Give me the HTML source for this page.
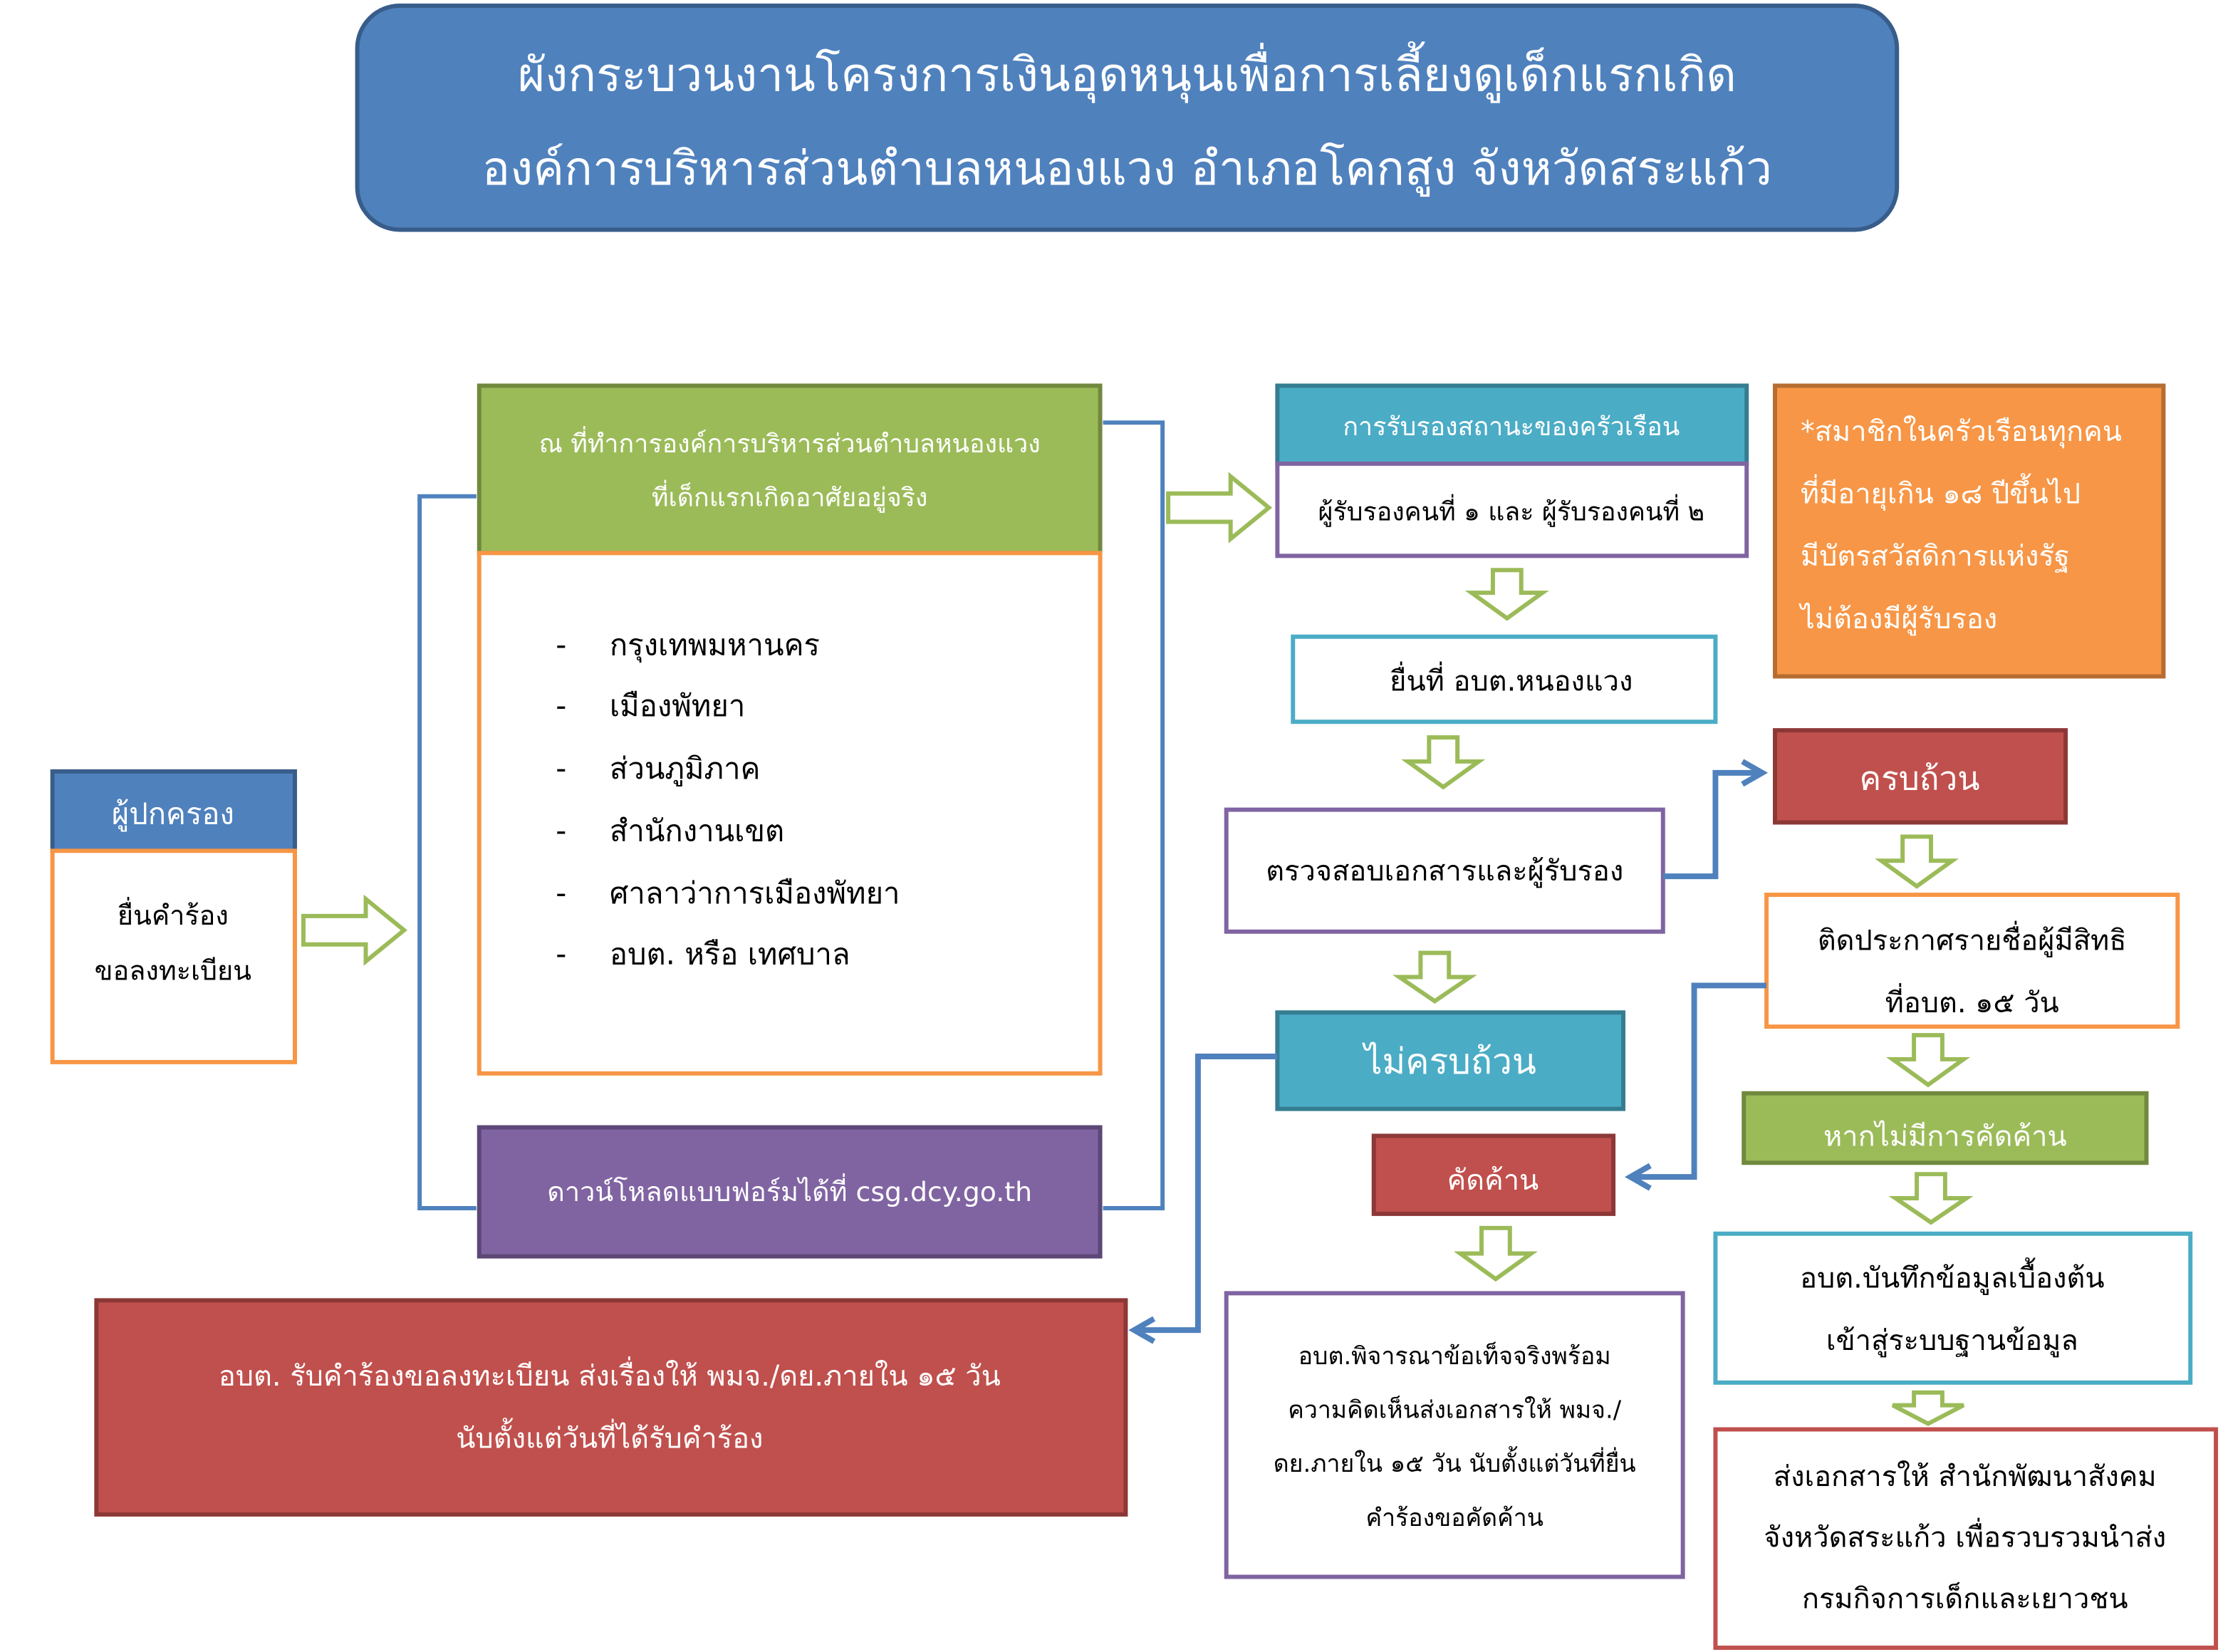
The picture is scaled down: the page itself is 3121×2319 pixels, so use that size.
<!DOCTYPE html>
<html><head><meta charset="utf-8">
<style>
html,body{margin:0;padding:0;background:#fff;width:3121px;height:2319px;overflow:hidden}
svg{display:block}
text{font-family:"DejaVu Sans","Liberation Sans",sans-serif}
</style></head><body>
<svg width="3121" height="2319" viewBox="0 0 1568 1165" preserveAspectRatio="none" xmlns="http://www.w3.org/2000/svg">
<defs>
<marker id="ah" viewBox="0 0 10 10" refX="8" refY="5" markerWidth="5" markerHeight="5" orient="auto"><path d="M1,1 L8,5 L1,9" fill="none" stroke="#4f81bd" stroke-width="2"/></marker>
</defs>
<!-- title -->
<rect x="252" y="4" width="1086" height="158" rx="30" fill="#4f81bd" stroke="#385d8a" stroke-width="3"/>
<text x="795" y="64" font-size="33" fill="#fff" text-anchor="middle">ผังกระบวนงานโครงการเงินอุดหนุนเพื่อการเลี้ยงดูเด็กแรกเกิด</text>
<text x="795" y="130" font-size="33" fill="#fff" text-anchor="middle">องค์การบริหารส่วนตำบลหนองแวง  อำเภอโคกสูง  จังหวัดสระแก้ว</text>

<!-- brackets -->
<path d="M336,350 L296,350 L296,852 L336,852" fill="none" stroke="#4f81bd" stroke-width="3"/>
<path d="M778,298 L820,298 L820,852 L778,852" fill="none" stroke="#4f81bd" stroke-width="3"/>

<!-- left -->
<rect x="37" y="544" width="171" height="56" fill="#4f81bd" stroke="#385d8a" stroke-width="3"/>
<text x="122" y="581" font-size="21" fill="#fff" text-anchor="middle">ผู้ปกครอง</text>
<rect x="37" y="600" width="171" height="149" fill="#fff" stroke="#f79646" stroke-width="3"/>
<text x="122" y="652" font-size="19" text-anchor="middle">ยื่นคำร้อง</text>
<text x="122" y="691" font-size="19" text-anchor="middle">ขอลงทะเบียน</text>

<!-- middle -->
<rect x="338" y="272" width="438" height="118" fill="#9bbb59" stroke="#71893f" stroke-width="3"/>
<text x="557" y="319" font-size="18" fill="#fff" text-anchor="middle">ณ ที่ทำการองค์การบริหารส่วนตำบลหนองแวง</text>
<text x="557" y="357" font-size="18" fill="#fff" text-anchor="middle">ที่เด็กแรกเกิดอาศัยอยู่จริง</text>
<rect x="338" y="390" width="438" height="367" fill="#fff" stroke="#f79646" stroke-width="3"/>
<g font-size="21">
<text x="392" y="462">-</text><text x="430" y="462">กรุงเทพมหานคร</text>
<text x="392" y="505">-</text><text x="430" y="505">เมืองพัทยา</text>
<text x="392" y="549">-</text><text x="430" y="549">ส่วนภูมิภาค</text>
<text x="392" y="593">-</text><text x="430" y="593">สำนักงานเขต</text>
<text x="392" y="637">-</text><text x="430" y="637">ศาลาว่าการเมืองพัทยา</text>
<text x="392" y="680">-</text><text x="430" y="680">อบต. หรือ เทศบาล</text>
</g>
<rect x="338" y="795" width="438" height="91" fill="#8064a2" stroke="#5c4776" stroke-width="3"/>
<text x="557" y="847" font-size="19" fill="#fff" text-anchor="middle">ดาวน์โหลดแบบฟอร์มได้ที่ csg.dcy.go.th</text>

<!-- red bottom -->
<rect x="68" y="917" width="726" height="151" fill="#c0504d" stroke="#8c3836" stroke-width="3"/>
<text x="430" y="977" font-size="20" fill="#fff" text-anchor="middle">อบต. รับคำร้องขอลงทะเบียน ส่งเรื่องให้ พมจ./ดย.ภายใน ๑๕ วัน</text>
<text x="430" y="1021" font-size="20" fill="#fff" text-anchor="middle">นับตั้งแต่วันที่ได้รับคำร้อง</text>

<!-- col 3 -->
<rect x="901" y="272" width="331" height="55" fill="#4bacc6" stroke="#357d91" stroke-width="3"/>
<text x="1066" y="307" font-size="18" fill="#fff" text-anchor="middle">การรับรองสถานะของครัวเรือน</text>
<rect x="901" y="327" width="331" height="65" fill="#fff" stroke="#8064a2" stroke-width="3"/>
<text x="1066" y="367" font-size="18" text-anchor="middle">ผู้รับรองคนที่ ๑ และ ผู้รับรองคนที่ ๒</text>
<rect x="912" y="449" width="298" height="60" fill="#fff" stroke="#4bacc6" stroke-width="3"/>
<text x="1066" y="487" font-size="20" text-anchor="middle">ยื่นที่ อบต.หนองแวง</text>
<rect x="865" y="571" width="308" height="86" fill="#fff" stroke="#8064a2" stroke-width="3"/>
<text x="1019" y="621" font-size="20" text-anchor="middle">ตรวจสอบเอกสารและผู้รับรอง</text>
<rect x="901" y="714" width="244" height="68" fill="#4bacc6" stroke="#357d91" stroke-width="3"/>
<text x="1023" y="757" font-size="25" fill="#fff" text-anchor="middle">ไม่ครบถ้วน</text>
<rect x="969" y="801" width="169" height="55" fill="#c0504d" stroke="#8c3836" stroke-width="3"/>
<text x="1053" y="839" font-size="20" fill="#fff" text-anchor="middle">คัดค้าน</text>
<rect x="865" y="912" width="322" height="200" fill="#fff" stroke="#8064a2" stroke-width="3"/>
<g font-size="17" text-anchor="middle">
<text x="1026" y="962">อบต.พิจารณาข้อเท็จจริงพร้อม</text>
<text x="1026" y="1000">ความคิดเห็นส่งเอกสารให้ พมจ./</text>
<text x="1026" y="1038">ดย.ภายใน ๑๕ วัน นับตั้งแต่วันที่ยื่น</text>
<text x="1026" y="1076">คำร้องขอคัดค้าน</text>
</g>

<!-- col 4 -->
<rect x="1252" y="272" width="274" height="205" fill="#f79646" stroke="#b66d31" stroke-width="3"/>
<g font-size="20" fill="#fff">
<text x="1270" y="311">*สมาชิกในครัวเรือนทุกคน</text>
<text x="1270" y="355">ที่มีอายุเกิน ๑๘ ปีขึ้นไป</text>
<text x="1270" y="399">มีบัตรสวัสดิการแห่งรัฐ</text>
<text x="1270" y="443">ไม่ต้องมีผู้รับรอง</text>
</g>
<rect x="1252" y="515" width="205" height="65" fill="#c0504d" stroke="#8c3836" stroke-width="3"/>
<text x="1354" y="557" font-size="23" fill="#fff" text-anchor="middle">ครบถ้วน</text>
<rect x="1246" y="631" width="290" height="93" fill="#fff" stroke="#f79646" stroke-width="3"/>
<text x="1391" y="670" font-size="20" text-anchor="middle">ติดประกาศรายชื่อผู้มีสิทธิ</text>
<text x="1391" y="714" font-size="20" text-anchor="middle">ที่อบต. ๑๕ วัน</text>
<rect x="1230" y="771" width="284" height="49" fill="#9bbb59" stroke="#71893f" stroke-width="3"/>
<text x="1372" y="808" font-size="20" fill="#fff" text-anchor="middle">หากไม่มีการคัดค้าน</text>
<rect x="1210" y="870" width="335" height="105" fill="#fff" stroke="#4bacc6" stroke-width="3"/>
<text x="1377" y="908" font-size="20" text-anchor="middle">อบต.บันทึกข้อมูลเบื้องต้น</text>
<text x="1377" y="952" font-size="20" text-anchor="middle">เข้าสู่ระบบฐานข้อมูล</text>
<rect x="1210" y="1008" width="353" height="154" fill="#fff" stroke="#c0504d" stroke-width="3"/>
<g font-size="20" text-anchor="middle">
<text x="1386" y="1048">ส่งเอกสารให้ สำนักพัฒนาสังคม</text>
<text x="1386" y="1091">จังหวัดสระแก้ว เพื่อรวบรวมนำส่ง</text>
<text x="1386" y="1134">กรมกิจการเด็กและเยาวชน</text>
</g>

<!-- blue connectors -->
<g fill="none" stroke="#4f81bd" stroke-width="4" marker-end="url(#ah)">
<path d="M1173,618 L1210,618 L1210,545 L1243,545"/>
<path d="M901,745 L845,745 L845,938 L800,938"/>
<path d="M1246,695 L1195,695 L1195,830 L1150,830"/>
</g>

<!-- hollow green arrows -->
<g fill="#fff" stroke="#9bbb59" stroke-width="3" stroke-linejoin="miter">
<polygon points="214,646 258,646 258,634 285,656 258,678 258,666 214,666"/>
<polygon points="824,348 868,348 868,336 895,358 868,380 868,368 824,368"/>
<polygon points="1053,402 1073,402 1073,418 1088,418 1063,436 1038,418 1053,418"/>
<polygon points="1008,520 1028,520 1028,537 1043,537 1018,555 993,537 1008,537"/>
<polygon points="1002,672 1022,672 1022,689 1037,689 1012,706 987,689 1002,689"/>
<polygon points="1045,866 1065,866 1065,884 1080,884 1055,902 1030,884 1045,884"/>
<polygon points="1342,590 1362,590 1362,607 1377,607 1352,625 1327,607 1342,607"/>
<polygon points="1350,730 1370,730 1370,747 1385,747 1360,765 1335,747 1350,747"/>
<polygon points="1352,828 1372,828 1372,845 1387,845 1362,862 1337,845 1352,845"/>
<polygon points="1350,982 1370,982 1370,991 1385,991 1360,1004 1335,991 1350,991"/>
</g>
</svg>
</body></html>
